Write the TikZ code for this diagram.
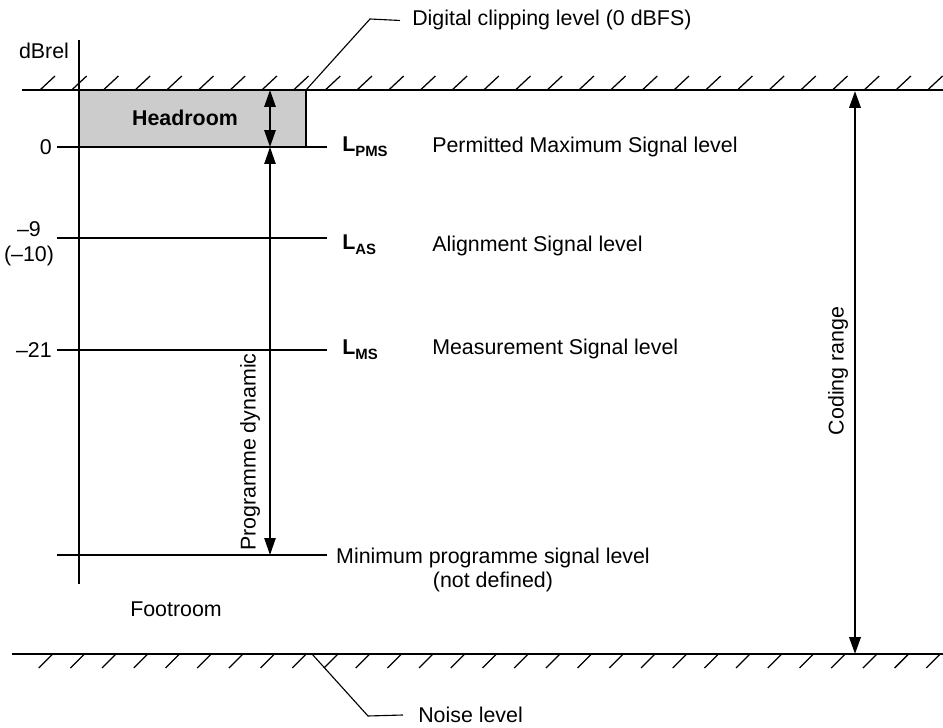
\documentclass[tikz,border=0pt]{standalone}
\usepackage{fontspec}
\setmainfont{Liberation Sans}
\usetikzlibrary{arrows.meta}

\newcommand{\lvlsub}[1]{\raisebox{-3.5pt}{\fontsize{10.6}{12}\selectfont\bfseries #1}}

\begin{document}
\begin{tikzpicture}[
        x=0.025cm, y=-0.025cm,
        txt/.style={font=\fontsize{15.2}{17.7}\selectfont, inner sep=0pt},
        sym/.style={txt, font=\fontsize{15.2}{17.7}\selectfont\bfseries},
        limit/.style={line width=2pt},
        hatch/.style={line width=0.9pt},
        level/.style={line width=1pt},
        leader/.style={line width=0.8pt},
        dim/.style={{Triangle[length=12pt,width=8pt]}-{Triangle[length=12pt,width=8pt]}, line width=1pt}
    ]
    \useasboundingbox (0,0) rectangle (943,728);

    % Headroom box
    \draw[level, fill=black!20] (79,90) rectangle (306,147);
    \node[sym] (headroom) at (185,118) {Headroom};

    % Clipping level (top) and noise level (bottom)
    \coordinate (clip-l) at (22,90);
    \coordinate (clip-r) at (943,90);
    \coordinate (noise-l) at (12,654);
    \coordinate (noise-r) at (943,654);
    \draw[limit] (clip-l) -- (clip-r);
    \draw[limit] (noise-l) -- (noise-r);
    \foreach \i in {0,...,28} {
        \draw[hatch] ({40+31.7*\i},90) -- ++(15,-14);
        \draw[hatch] ({52.7+31.7*\i},654) -- ++(-14,14);
    }

    % dBrel axis
    \coordinate (axis-top) at (79,40);
    \coordinate (axis-bot) at (79,584);
    \draw[level] (axis-top) -- (axis-bot);
    \node[txt, anchor=base] (dbrel) at (44,59) {dBrel};

    % Signal levels
    \foreach \y/\n in {147/pms, 238/as, 350/ms, 555/min} {
        \coordinate (\n-l) at (57,\y);
        \coordinate (\n-r) at (327,\y);
        \draw[level] (\n-l) -- (\n-r);
    }
    \node[txt, anchor=east] (zero) at (52,147) {0};
    \node[txt, align=center] (nine) at (29,244) {\textendash 9\\(\textendash 10)};
    \node[txt, anchor=east] (twentyone) at (52,350) {\textendash 21};

    \node[sym, anchor=base west] (lpms) at (342,152) {L\lvlsub{PMS}};
    \node[sym, anchor=base west] (las) at (342,250) {L\lvlsub{AS}};
    \node[sym, anchor=base west] (lms) at (342,355) {L\lvlsub{MS}};
    \node[txt, anchor=base west] (pmsdesc) at (432,153) {Permitted Maximum Signal level};
    \node[txt, anchor=base west] (asdesc) at (432,252) {Alignment Signal level};
    \node[txt, anchor=base west] (msdesc) at (432,355) {Measurement Signal level};
    \node[txt, align=center] (mindesc) at (493,570) {Minimum programme signal level\\(not defined)};
    \node[txt, anchor=base west] (footroom) at (130,617) {Footroom};

    % Ranges
    \coordinate (hr-top) at (270,90);
    \coordinate (hr-bot) at (270,147);
    \coordinate (pd-bot) at (270,555);
    \coordinate (cr-top) at (855,91);
    \coordinate (cr-bot) at (855,654);
    \draw[dim, line width=1.4pt] (hr-top) -- (hr-bot);
    \draw[dim] (hr-bot) -- (pd-bot);
    \draw[dim, line width=1.8pt] (cr-top) -- (cr-bot);
    \node[txt, rotate=90] (progdyn) at (250,452) {Programme dynamic};
    \node[txt, rotate=90] (coding) at (838,371) {Coding range};

    % Leaders
    \node[txt, anchor=base west] (cliplbl) at (412,26) {Digital clipping level (0 dBFS)};
    \node[txt, anchor=west] (noiselbl) at (418,715) {Noise level};
    \draw[leader] (306,90) -- (370,19) -- ([xshift=-0.3cm]cliplbl.west);
    \draw[leader] (312,654) -- (368,716) -- ([xshift=-0.375cm]noiselbl.west);

\end{tikzpicture}
\end{document}
